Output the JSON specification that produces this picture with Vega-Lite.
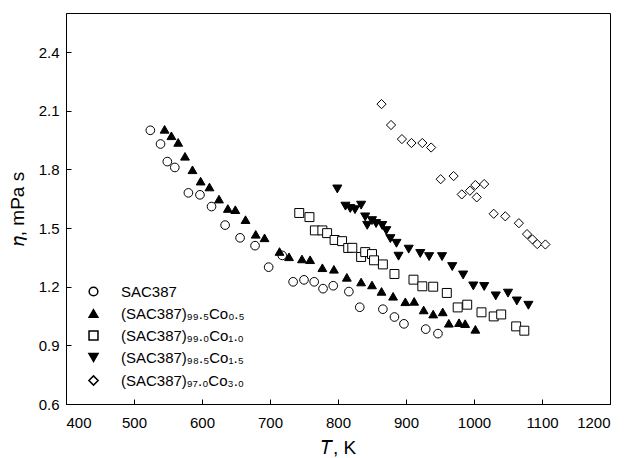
{
  "$schema": "https://vega.github.io/schema/vega-lite/v6.json",
  "autosize": {"type": "none"},
  "width": 544,
  "height": 391,
  "padding": {"left": 66, "top": 13, "right": 18, "bottom": 54},
  "background": "white",
  "config": {
    "font": "Liberation Sans",
    "view": {"stroke": "black", "strokeWidth": 1},
    "axis": {"grid": false, "domainColor": "black", "tickColor": "black", "labelColor": "black", "titleColor": "black", "labelFont": "Liberation Sans", "titleFont": "Liberation Sans", "labelFontSize": 15, "titleFontSize": 19, "titleFontWeight": "normal", "tickSize": -5},
    "legend": {"orient": "none", "legendX": 20, "legendY": 271, "labelFont": "Liberation Sans", "labelFontSize": 15, "labelColor": "black", "padding": 0, "rowPadding": 6, "labelOffset": 20}
  },
  "datasets": {
    "pts": [
      {"s": "SAC387", "T": 524, "eta": 2.00},
      {"s": "SAC387", "T": 539, "eta": 1.93},
      {"s": "SAC387", "T": 549, "eta": 1.84},
      {"s": "SAC387", "T": 560, "eta": 1.81},
      {"s": "SAC387", "T": 580, "eta": 1.68},
      {"s": "SAC387", "T": 597, "eta": 1.67},
      {"s": "SAC387", "T": 614, "eta": 1.61},
      {"s": "SAC387", "T": 634, "eta": 1.515},
      {"s": "SAC387", "T": 656, "eta": 1.45},
      {"s": "SAC387", "T": 678, "eta": 1.41},
      {"s": "SAC387", "T": 698, "eta": 1.30},
      {"s": "SAC387", "T": 718, "eta": 1.36},
      {"s": "SAC387", "T": 734, "eta": 1.225},
      {"s": "SAC387", "T": 750, "eta": 1.235},
      {"s": "SAC387", "T": 765, "eta": 1.225},
      {"s": "SAC387", "T": 778, "eta": 1.19},
      {"s": "SAC387", "T": 793, "eta": 1.205},
      {"s": "SAC387", "T": 816, "eta": 1.175},
      {"s": "SAC387", "T": 832, "eta": 1.095},
      {"s": "SAC387", "T": 866, "eta": 1.085},
      {"s": "SAC387", "T": 883, "eta": 1.045},
      {"s": "SAC387", "T": 897, "eta": 1.01},
      {"s": "SAC387", "T": 929, "eta": 0.983},
      {"s": "SAC387", "T": 947, "eta": 0.96},
      {"s": "(SAC387)₉₉.₅Co₀.₅", "T": 545, "eta": 2.005},
      {"s": "(SAC387)₉₉.₅Co₀.₅", "T": 555, "eta": 1.972},
      {"s": "(SAC387)₉₉.₅Co₀.₅", "T": 565, "eta": 1.938},
      {"s": "(SAC387)₉₉.₅Co₀.₅", "T": 575, "eta": 1.867},
      {"s": "(SAC387)₉₉.₅Co₀.₅", "T": 586, "eta": 1.798},
      {"s": "(SAC387)₉₉.₅Co₀.₅", "T": 598, "eta": 1.74},
      {"s": "(SAC387)₉₉.₅Co₀.₅", "T": 611, "eta": 1.71},
      {"s": "(SAC387)₉₉.₅Co₀.₅", "T": 625, "eta": 1.648},
      {"s": "(SAC387)₉₉.₅Co₀.₅", "T": 638, "eta": 1.60},
      {"s": "(SAC387)₉₉.₅Co₀.₅", "T": 649, "eta": 1.594},
      {"s": "(SAC387)₉₉.₅Co₀.₅", "T": 664, "eta": 1.543},
      {"s": "(SAC387)₉₉.₅Co₀.₅", "T": 679, "eta": 1.468},
      {"s": "(SAC387)₉₉.₅Co₀.₅", "T": 692, "eta": 1.45},
      {"s": "(SAC387)₉₉.₅Co₀.₅", "T": 714, "eta": 1.38},
      {"s": "(SAC387)₉₉.₅Co₀.₅", "T": 728, "eta": 1.353},
      {"s": "(SAC387)₉₉.₅Co₀.₅", "T": 747, "eta": 1.342},
      {"s": "(SAC387)₉₉.₅Co₀.₅", "T": 759, "eta": 1.338},
      {"s": "(SAC387)₉₉.₅Co₀.₅", "T": 777, "eta": 1.297},
      {"s": "(SAC387)₉₉.₅Co₀.₅", "T": 794, "eta": 1.289},
      {"s": "(SAC387)₉₉.₅Co₀.₅", "T": 813, "eta": 1.248},
      {"s": "(SAC387)₉₉.₅Co₀.₅", "T": 834, "eta": 1.224},
      {"s": "(SAC387)₉₉.₅Co₀.₅", "T": 850, "eta": 1.209},
      {"s": "(SAC387)₉₉.₅Co₀.₅", "T": 864, "eta": 1.176},
      {"s": "(SAC387)₉₉.₅Co₀.₅", "T": 881, "eta": 1.151},
      {"s": "(SAC387)₉₉.₅Co₀.₅", "T": 899, "eta": 1.123},
      {"s": "(SAC387)₉₉.₅Co₀.₅", "T": 912, "eta": 1.125},
      {"s": "(SAC387)₉₉.₅Co₀.₅", "T": 926, "eta": 1.081},
      {"s": "(SAC387)₉₉.₅Co₀.₅", "T": 940, "eta": 1.06},
      {"s": "(SAC387)₉₉.₅Co₀.₅", "T": 954, "eta": 1.071},
      {"s": "(SAC387)₉₉.₅Co₀.₅", "T": 963, "eta": 1.013},
      {"s": "(SAC387)₉₉.₅Co₀.₅", "T": 978, "eta": 1.016},
      {"s": "(SAC387)₉₉.₅Co₀.₅", "T": 987, "eta": 1.011},
      {"s": "(SAC387)₉₉.₅Co₀.₅", "T": 1002, "eta": 0.982},
      {"s": "(SAC387)₉₉.₀Co₁.₀", "T": 743, "eta": 1.577},
      {"s": "(SAC387)₉₉.₀Co₁.₀", "T": 758, "eta": 1.556},
      {"s": "(SAC387)₉₉.₀Co₁.₀", "T": 766, "eta": 1.488},
      {"s": "(SAC387)₉₉.₀Co₁.₀", "T": 777, "eta": 1.488},
      {"s": "(SAC387)₉₉.₀Co₁.₀", "T": 784, "eta": 1.474},
      {"s": "(SAC387)₉₉.₀Co₁.₀", "T": 795, "eta": 1.439},
      {"s": "(SAC387)₉₉.₀Co₁.₀", "T": 806, "eta": 1.433},
      {"s": "(SAC387)₉₉.₀Co₁.₀", "T": 815, "eta": 1.398},
      {"s": "(SAC387)₉₉.₀Co₁.₀", "T": 821, "eta": 1.399},
      {"s": "(SAC387)₉₉.₀Co₁.₀", "T": 834, "eta": 1.352},
      {"s": "(SAC387)₉₉.₀Co₁.₀", "T": 840, "eta": 1.377},
      {"s": "(SAC387)₉₉.₀Co₁.₀", "T": 850, "eta": 1.367},
      {"s": "(SAC387)₉₉.₀Co₁.₀", "T": 853, "eta": 1.335},
      {"s": "(SAC387)₉₉.₀Co₁.₀", "T": 866, "eta": 1.314},
      {"s": "(SAC387)₉₉.₀Co₁.₀", "T": 883, "eta": 1.265},
      {"s": "(SAC387)₉₉.₀Co₁.₀", "T": 911, "eta": 1.236},
      {"s": "(SAC387)₉₉.₀Co₁.₀", "T": 924, "eta": 1.202},
      {"s": "(SAC387)₉₉.₀Co₁.₀", "T": 940, "eta": 1.20},
      {"s": "(SAC387)₉₉.₀Co₁.₀", "T": 960, "eta": 1.168},
      {"s": "(SAC387)₉₉.₀Co₁.₀", "T": 976, "eta": 1.094},
      {"s": "(SAC387)₉₉.₀Co₁.₀", "T": 990, "eta": 1.108},
      {"s": "(SAC387)₉₉.₀Co₁.₀", "T": 1011, "eta": 1.069},
      {"s": "(SAC387)₉₉.₀Co₁.₀", "T": 1029, "eta": 1.048},
      {"s": "(SAC387)₉₉.₀Co₁.₀", "T": 1040, "eta": 1.058},
      {"s": "(SAC387)₉₉.₀Co₁.₀", "T": 1062, "eta": 0.997},
      {"s": "(SAC387)₉₉.₀Co₁.₀", "T": 1074, "eta": 0.975},
      {"s": "(SAC387)₉₈.₅Co₁.₅", "T": 799, "eta": 1.70},
      {"s": "(SAC387)₉₈.₅Co₁.₅", "T": 811, "eta": 1.612},
      {"s": "(SAC387)₉₈.₅Co₁.₅", "T": 818, "eta": 1.60},
      {"s": "(SAC387)₉₈.₅Co₁.₅", "T": 825, "eta": 1.594},
      {"s": "(SAC387)₉₈.₅Co₁.₅", "T": 834, "eta": 1.617},
      {"s": "(SAC387)₉₈.₅Co₁.₅", "T": 840, "eta": 1.557},
      {"s": "(SAC387)₉₈.₅Co₁.₅", "T": 843, "eta": 1.514},
      {"s": "(SAC387)₉₈.₅Co₁.₅", "T": 850, "eta": 1.538},
      {"s": "(SAC387)₉₈.₅Co₁.₅", "T": 856, "eta": 1.523},
      {"s": "(SAC387)₉₈.₅Co₁.₅", "T": 865, "eta": 1.513},
      {"s": "(SAC387)₉₈.₅Co₁.₅", "T": 871, "eta": 1.487},
      {"s": "(SAC387)₉₈.₅Co₁.₅", "T": 877, "eta": 1.446},
      {"s": "(SAC387)₉₈.₅Co₁.₅", "T": 886, "eta": 1.422},
      {"s": "(SAC387)₉₈.₅Co₁.₅", "T": 889, "eta": 1.356},
      {"s": "(SAC387)₉₈.₅Co₁.₅", "T": 904, "eta": 1.392},
      {"s": "(SAC387)₉₈.₅Co₁.₅", "T": 921, "eta": 1.37},
      {"s": "(SAC387)₉₈.₅Co₁.₅", "T": 934, "eta": 1.354},
      {"s": "(SAC387)₉₈.₅Co₁.₅", "T": 953, "eta": 1.354},
      {"s": "(SAC387)₉₈.₅Co₁.₅", "T": 968, "eta": 1.303},
      {"s": "(SAC387)₉₈.₅Co₁.₅", "T": 984, "eta": 1.26},
      {"s": "(SAC387)₉₈.₅Co₁.₅", "T": 999, "eta": 1.204},
      {"s": "(SAC387)₉₈.₅Co₁.₅", "T": 1015, "eta": 1.201},
      {"s": "(SAC387)₉₈.₅Co₁.₅", "T": 1032, "eta": 1.153},
      {"s": "(SAC387)₉₈.₅Co₁.₅", "T": 1050, "eta": 1.167},
      {"s": "(SAC387)₉₈.₅Co₁.₅", "T": 1063, "eta": 1.127},
      {"s": "(SAC387)₉₈.₅Co₁.₅", "T": 1080, "eta": 1.105},
      {"s": "(SAC387)₉₇.₀Co₃.₀", "T": 864, "eta": 2.134},
      {"s": "(SAC387)₉₇.₀Co₃.₀", "T": 878, "eta": 2.027},
      {"s": "(SAC387)₉₇.₀Co₃.₀", "T": 894, "eta": 1.955},
      {"s": "(SAC387)₉₇.₀Co₃.₀", "T": 908, "eta": 1.935},
      {"s": "(SAC387)₉₇.₀Co₃.₀", "T": 924, "eta": 1.935},
      {"s": "(SAC387)₉₇.₀Co₃.₀", "T": 937, "eta": 1.912},
      {"s": "(SAC387)₉₇.₀Co₃.₀", "T": 951, "eta": 1.75},
      {"s": "(SAC387)₉₇.₀Co₃.₀", "T": 970, "eta": 1.766},
      {"s": "(SAC387)₉₇.₀Co₃.₀", "T": 982, "eta": 1.672},
      {"s": "(SAC387)₉₇.₀Co₃.₀", "T": 994, "eta": 1.691},
      {"s": "(SAC387)₉₇.₀Co₃.₀", "T": 1002, "eta": 1.72},
      {"s": "(SAC387)₉₇.₀Co₃.₀", "T": 1004, "eta": 1.657},
      {"s": "(SAC387)₉₇.₀Co₃.₀", "T": 1015, "eta": 1.725},
      {"s": "(SAC387)₉₇.₀Co₃.₀", "T": 1029, "eta": 1.573},
      {"s": "(SAC387)₉₇.₀Co₃.₀", "T": 1046, "eta": 1.56},
      {"s": "(SAC387)₉₇.₀Co₃.₀", "T": 1066, "eta": 1.525},
      {"s": "(SAC387)₉₇.₀Co₃.₀", "T": 1078, "eta": 1.469},
      {"s": "(SAC387)₉₇.₀Co₃.₀", "T": 1086, "eta": 1.442},
      {"s": "(SAC387)₉₇.₀Co₃.₀", "T": 1093, "eta": 1.418},
      {"s": "(SAC387)₉₇.₀Co₃.₀", "T": 1105, "eta": 1.416}
    ]
  },
  "data": {"name": "pts"},
  "mark": {"type": "point", "filled": true, "stroke": "black", "strokeWidth": 1, "opacity": 1},
  "encoding": {
    "x": {"field": "T", "type": "quantitative", "scale": {"domain": [400, 1200], "nice": false, "zero": false}, "axis": {"values": [400, 500, 600, 700, 800, 900, 1000, 1100, 1200], "format": "d", "title": "𝑇, K", "titlePadding": 8, "labelPadding": 16}},
    "y": {"field": "eta", "type": "quantitative", "scale": {"domain": [0.6, 2.6], "nice": false, "zero": false}, "axis": {"values": [0.6, 0.9, 1.2, 1.5, 1.8, 2.1, 2.4], "format": ".1f", "title": "𝜂, mPa s", "titlePadding": 11, "labelPadding": 12}},
    "shape": {"field": "s", "type": "nominal", "title": null, "legend": {"encode": {"symbols": {"update": {"stroke": {"value": "black"}, "strokeWidth": {"value": 1}}}}}, "scale": {"domain": ["SAC387", "(SAC387)₉₉.₅Co₀.₅", "(SAC387)₉₉.₀Co₁.₀", "(SAC387)₉₈.₅Co₁.₅", "(SAC387)₉₇.₀Co₃.₀"], "range": ["circle", "triangle-up", "square", "triangle-down", "diamond"]}},
    "fill": {"field": "s", "type": "nominal", "title": null, "legend": {"encode": {"symbols": {"update": {"stroke": {"value": "black"}, "strokeWidth": {"value": 1}}}}}, "scale": {"domain": ["SAC387", "(SAC387)₉₉.₅Co₀.₅", "(SAC387)₉₉.₀Co₁.₀", "(SAC387)₉₈.₅Co₁.₅", "(SAC387)₉₇.₀Co₃.₀"], "range": ["white", "black", "white", "black", "white"]}},
    "size": {"field": "s", "type": "nominal", "title": null, "legend": {"encode": {"symbols": {"update": {"stroke": {"value": "black"}, "strokeWidth": {"value": 1}}}}}, "scale": {"domain": ["SAC387", "(SAC387)₉₉.₅Co₀.₅", "(SAC387)₉₉.₀Co₁.₀", "(SAC387)₉₈.₅Co₁.₅", "(SAC387)₉₇.₀Co₃.₀"], "range": [75, 85, 60, 85, 170]}}
  }
}
